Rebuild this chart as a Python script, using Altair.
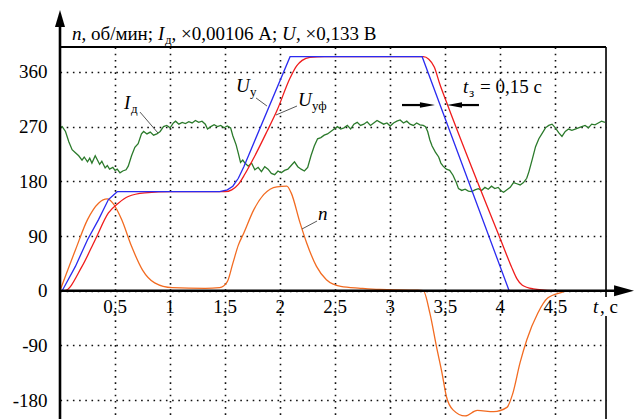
import altair as alt
import pandas as pd

# ---------------- data (chart units: t in s, value in scaled units) ----------------
uy_t = [0.0, 0.02, 0.14, 0.25, 0.35, 0.44, 0.52, 1.45, 1.52, 1.57, 1.62, 1.67, 2.09, 3.29, 4.08]
uy_v = [0, 0, 40, 84, 117, 150, 163, 163, 166, 172, 185, 204, 385, 385, 0]

uyf_t = [0.0, 0.04, 0.2, 0.32, 0.44, 0.53, 0.62, 0.77, 1.02, 1.5, 1.56, 1.62, 1.68, 1.75, 1.88, 1.97,
         2.09, 2.15, 2.2, 2.27, 2.4, 3.3, 3.35, 3.4, 3.45, 3.52, 4.0, 4.1, 4.15, 4.2, 4.3, 4.48]
uyf_v = [0, 0, 40, 84, 128, 144, 155, 161, 163, 163, 166, 175, 192, 215, 262, 296,
         350, 370, 379, 384, 385, 385, 381, 368, 340, 306, 85, 40, 20, 9, 3, 0]

n_t = [0.0, 0.14, 0.25, 0.35, 0.43, 0.48, 0.56, 0.65, 0.75, 0.86, 1.02, 1.32, 1.45, 1.52, 1.57, 1.62,
       1.67, 1.76, 1.85, 1.97, 2.06, 2.1, 2.18, 2.24, 2.33, 2.42, 2.55, 2.73, 2.9, 3.25, 3.3, 3.36,
       3.42, 3.47, 3.51, 3.57, 3.68, 3.79, 3.94, 4.06, 4.11, 4.18, 4.24, 4.34, 4.43, 4.57, 4.6]
n_v = [0, 67, 117, 144, 151, 144, 117, 73, 34, 13, 5, 4, 5, 15, 45, 75,
       95, 133, 158, 171, 172, 161, 112, 79, 40, 18, 7, 4, 2, 1, 0, -37,
       -92, -135, -174, -196, -206, -197, -199, -192, -171, -118, -81, -37, -12, -2, 0]

id_t = [0.00, 0.02, 0.05, 0.08, 0.11, 0.14, 0.17, 0.20, 0.22, 0.25, 0.27, 0.29, 0.32, 0.34, 0.36, 0.38,
        0.41, 0.43, 0.45, 0.48, 0.50, 0.52, 0.545, 0.57, 0.60, 0.62, 0.65, 0.68, 0.71, 0.74, 0.76, 0.79,
        0.82, 0.85, 0.88, 0.91, 0.94, 0.97, 1.00, 1.03, 1.05, 1.08, 1.11, 1.14, 1.17, 1.20, 1.23, 1.26,
        1.29, 1.32, 1.34, 1.37, 1.40, 1.43, 1.46, 1.49, 1.52, 1.55, 1.57, 1.60, 1.62, 1.64, 1.66, 1.68,
        1.71, 1.74, 1.77, 1.80, 1.83, 1.86, 1.89, 1.92, 1.95, 1.98, 2.01, 2.04, 2.07, 2.10, 2.13, 2.16,
        2.19, 2.22, 2.25, 2.28, 2.31, 2.34, 2.37, 2.40, 2.43, 2.46, 2.49, 2.52, 2.55, 2.58, 2.61, 2.64,
        2.67, 2.70, 2.73, 2.76, 2.79, 2.82, 2.85, 2.88, 2.91, 2.94, 2.97, 3.00, 3.03, 3.06, 3.09, 3.12,
        3.15, 3.18, 3.21, 3.24, 3.27, 3.30, 3.32, 3.34, 3.36, 3.38, 3.41, 3.44, 3.46, 3.48, 3.51, 3.54,
        3.57, 3.60, 3.62, 3.65, 3.68, 3.71, 3.74, 3.77, 3.80, 3.83, 3.86, 3.89, 3.92, 3.95, 3.98, 4.01,
        4.03, 4.06, 4.09, 4.12, 4.15, 4.18, 4.21, 4.24, 4.26, 4.29, 4.32, 4.35, 4.38, 4.41, 4.44, 4.47,
        4.50, 4.53, 4.56, 4.59, 4.62, 4.65, 4.68, 4.71, 4.74, 4.77, 4.80, 4.83, 4.86, 4.89, 4.92, 4.95]
id_v = [268, 270, 262, 245, 232, 227, 222, 215, 220, 212, 218, 210, 222, 215, 208, 213,
        202, 206, 200, 203, 198, 200, 194, 197, 199, 205, 222, 236, 242, 258, 262, 258,
        261, 256, 258, 262, 270, 272, 268, 276, 279, 274, 277, 275, 278, 276, 280, 277,
        279, 274, 266, 270, 273, 270, 272, 268, 271, 268, 255, 240, 226, 211, 215, 210,
        205, 210, 199, 203, 196, 204, 200, 193, 191, 197, 194, 198, 200, 206, 212, 204,
        200, 197, 203, 222, 238, 250, 252, 256, 258, 262, 266, 270, 266, 268, 272, 266,
        274, 277, 272, 274, 278, 272, 276, 280, 277, 274, 276, 271, 276, 279, 281, 276,
        279, 274, 272, 276, 273, 272, 270, 262, 248, 238, 228, 220, 210, 205, 200, 198,
        190, 178, 168, 165, 167, 164, 163, 166, 168, 165, 170, 167, 172, 168, 170, 164,
        162, 166, 170, 178, 176, 174, 178, 185, 196, 216, 237, 250, 259, 268, 272, 274,
        268, 260, 254, 262, 266, 264, 266, 268, 270, 272, 268, 274, 273, 276, 279, 277]

x_ticks = [0.5, 1, 1.5, 2, 2.5, 3, 3.5, 4, 4.5]
x_tick_labels = ["0,5", "1", "1,5", "2", "2,5", "3", "3,5", "4", "4,5"]
y_ticks = [-180, -90, 0, 90, 180, 270, 360]

series_names = ["Iд", "n", "Uуф", "Uу"]
series_colors = ["#2b7a2b", "#f26b21", "#f01c1c", "#2b2bf0"]

# ---------------- scales / layout ----------------
XMAX, YMIN, YMAX = 4.96, -216, 401
W, H = 546, 375
FONT = "Liberation Serif"

xs = alt.Scale(domain=[0, XMAX], nice=False, zero=False)
ys = alt.Scale(domain=[YMIN, YMAX], nice=False, zero=False)

GRID = dict(gridColor="#111111", gridDash=[1.6, 4.6], gridWidth=1.6, gridOpacity=1)
X = alt.X("t:Q", scale=xs, axis=alt.Axis(values=x_ticks, grid=True, labels=False, ticks=False,
                                          domain=False, title=None, **GRID))
Y = alt.Y("v:Q", scale=ys, axis=alt.Axis(values=y_ticks, grid=True, ticks=False, domain=False,
                                          title=None, labelFont=FONT, labelFontSize=19,
                                          labelColor="black", labelPadding=13,
                                          labelExpr="'' + datum.value", **GRID))


def frame(ts, vs):
    return pd.DataFrame({"t": ts, "v": vs, "o": list(range(len(ts)))})


def curve(ts, vs, color, interp):
    return alt.Chart(frame(ts, vs)).mark_line(
        color=color, strokeWidth=1.3, interpolate=interp, clip=True
    ).encode(x=X, y=Y, order="o:Q")


layers = []
layers.append(curve(id_t, id_v, series_colors[0], "linear"))
layers.append(curve(n_t, n_v, series_colors[1], "monotone"))
layers.append(curve(uyf_t, uyf_v, series_colors[2], "monotone"))
layers.append(curve(uy_t, uy_v, series_colors[3], "linear"))

# rules: frame, axes, leader lines, arrow shafts
rules = pd.DataFrame([
    # t, t2, v, v2, width, color
    (0, XMAX, YMAX, YMAX, 2.0, "black"),          # top frame
    (XMAX, XMAX, YMIN, YMAX, 1.6, "black"),       # right frame
    (0, 5.10, 0, 0, 2.6, "black"),                # t axis
    (0, 0, YMIN, 440, 2.6, "black"),              # value axis
    (0.727, 0.890, 293.9, 259.5, 0.9, "#444444"),  # I leader
    (1.781, 1.880, 317.1, 303.9, 0.9, "#444444"),  # Uy leader
    (2.153, 1.962, 303.9, 289.1, 0.9, "#444444"),  # Uyf leader
    (2.335, 2.198, 114.7, 101.5, 0.9, "#444444"),  # n leader
    (3.107, 3.320, 305.5, 305.5, 2.2, "black"),    # left arrow shaft
    (3.806, 3.600, 305.5, 305.5, 2.2, "black"),    # right arrow shaft
], columns=["t", "t2", "v", "v2", "w", "c"])
layers.append(alt.Chart(rules).mark_rule(clip=False).encode(
    x=X, x2="t2:Q", y=Y, y2="v2:Q",
    strokeWidth=alt.StrokeWidth("w:Q", scale=None),
    color=alt.Color("c:N", scale=None)))

# arrow heads
heads = [
    (5.124, 0, "M-1,-0.55L1,0L-1,0.55Z", 400),     # t axis arrow
    (0, 447.8, "M-0.59,1L0,-1L0.59,1Z", 289),      # value axis arrow
    (3.338, 305.5, "M-1,-0.36L1,0L-1,0.36Z", 225),  # right-pointing
    (3.584, 305.5, "M1,-0.36L-1,0L1,0.36Z", 225),   # left-pointing
]
for t, v, shp, sz in heads:
    layers.append(alt.Chart(frame([t], [v])).mark_point(
        shape=shp, size=sz, filled=True, color="black", opacity=1, strokeWidth=0, clip=False
    ).encode(x=X, y=Y))

# white box behind the t-axis name
box = pd.DataFrame({"t": [4.76], "t2": [5.078], "v": [-10.4], "v2": [-41.7]})
layers.append(alt.Chart(box).mark_rect(color="white", clip=False).encode(
    x=X, x2="t2:Q", y=Y, y2="v2:Q"))

# tick labels along the t axis
xl = pd.DataFrame({"t": x_ticks, "v": [0] * len(x_ticks), "lab": x_tick_labels})
layers.append(alt.Chart(xl).mark_text(font=FONT, fontSize=19, color="black", align="center",
                                      baseline="alphabetic", dy=22, clip=False).encode(
    x=X, y=Y, text="lab:N"))

# texts (italic and upright), positions in chart units
italic_txt = pd.DataFrame([
    (0.109, 412.5, "n", 19),
    (0.890, 412.5, "I", 19),
    (2.017, 412.5, "U", 19),
    (0.581, 298.9, "I", 19),
    (1.599, 326.9, "U", 19),
    (2.162, 303.9, "U", 19),
    (2.344, 116.3, "n", 19),
    (3.661, 325.3, "t", 19),
    (4.842, -36.7, "t", 19),
], columns=["t", "v", "txt", "fs"])
upright_txt = pd.DataFrame([
    (0.195, 412.5, ", об/мин;", 19),
    (0.954, 406.0, "д", 13),
    (1.013, 412.5, ", ×0,00106 А;", 19),
    (2.144, 412.5, ", ×0,133 В", 19),
    (0.645, 292.3, "д", 13),
    (1.726, 320.3, "у", 13),
    (2.289, 297.3, "уф", 13),
    (3.716, 318.7, "з", 13),
    (3.815, 325.3, "= 0,15 с", 19),
    (4.906, -36.7, ", с", 19),
], columns=["t", "v", "txt", "fs"])

for df, style in ((italic_txt, "italic"), (upright_txt, "normal")):
    layers.append(alt.Chart(df).mark_text(font=FONT, fontStyle=style, color="black", align="left",
                                          baseline="alphabetic", clip=False).encode(
        x=X, y=Y, text="txt:N", size=alt.Size("fs:Q", scale=None)))

chart = alt.layer(*layers).properties(
    width=W, height=H,
    autosize=alt.AutoSizeParams(type="none"),
    padding={"left": 52, "top": 39, "right": 28, "bottom": 0},
).configure_view(stroke=None, fill="#f9f9f9").configure(background="white")

chart.save("out.html", embed_options={"renderer": "svg", "actions": False})
